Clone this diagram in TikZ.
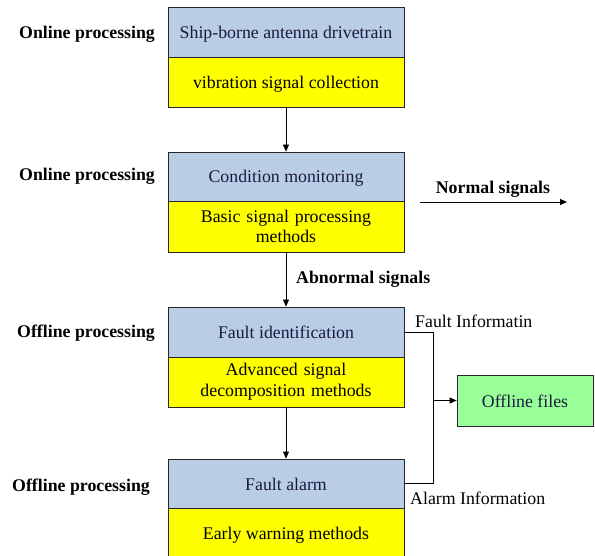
\documentclass[tikz,border=0pt]{standalone}
\usepackage{fontspec}
\setmainfont{Liberation Serif}
\usetikzlibrary{arrows.meta}
\definecolor{boxblue}{HTML}{B9CDE5}
\definecolor{boxyellow}{HTML}{FFFF00}
\definecolor{boxgreen}{HTML}{99FF99}
\definecolor{navytext}{HTML}{1A1A40}
\begin{document}
\begin{tikzpicture}[x=1pt,y=-1pt,
  every node/.style={font=\fontsize{17.8}{21}\selectfont, inner sep=0pt},
  oneline/.style={text height=15pt, text depth=2pt},
  bluebox/.style={draw=black!85, line width=0.8pt, fill=boxblue, minimum width=236pt, text=navytext, align=center, oneline},
  yellowbox/.style={draw=black!85, line width=0.8pt, fill=boxyellow, minimum width=236pt, text=black, align=center},
  greenbox/.style={draw=black!85, line width=0.8pt, fill=boxgreen, minimum width=136pt, minimum height=51pt, text=navytext, oneline},
  sidelabel/.style={font=\fontsize{17.8}{21}\selectfont\bfseries, anchor=west, oneline},
  infolabel/.style={anchor=west, oneline},
  flow/.style={line width=0.8pt, -{Triangle[length=7pt,width=6pt]}},
  link/.style={line width=0.8pt}
]
\useasboundingbox (0,0) rectangle (595,556);
% boxes
\node[bluebox, minimum height=50pt] (b1) at (286,32) {Ship-borne antenna drivetrain};
\node[yellowbox, minimum height=50pt, oneline] (y1) at (286,82) {vibration signal collection};
\node[bluebox, minimum height=49pt] (b2) at (286,176.5) {Condition monitoring};
\node[yellowbox, minimum height=51pt, text width=236pt] (y2) at (286,226.5) {\raisebox{-1.3pt}{Basic signal processing}\\[-0.4pt]methods};
\node[bluebox, minimum height=50pt] (b3) at (286,332) {Fault identification};
\node[yellowbox, minimum height=50pt, text width=236pt] (y3) at (286,382) {Advanced signal\\[-0.4pt]decomposition methods};
\node[bluebox, minimum height=49pt] (b4) at (286,483.5) {Fault alarm};
\node[yellowbox, minimum height=49pt, oneline] (y4) at (286,532.5) {Early warning methods};
\node[greenbox] (g) at (525,400.5) {Offline files};
% side labels
\node[sidelabel] (l1) at (19,32.5) {Online processing};
\node[sidelabel] (l2) at (19,174.5) {Online processing};
\node[sidelabel] (l3) at (17,331.2) {Offline processing};
\node[sidelabel] (l4) at (12,485.2) {Offline processing};
% vertical flow
\draw[flow] (y1.south) -- (b2.north);
\draw[flow] (y2.south) -- (b3.north);
\draw[flow] (y3.south) -- (b4.north);
\node[sidelabel] (abn) at (296,276.8) {Abnormal signals};
% normal signals
\coordinate (ns1) at (420,202);
\coordinate (ns2) at (567,202);
\draw[flow] (ns1) -- (ns2);
\node[sidelabel, anchor=center] (nsl) at (493,186.8) {Normal signals};
% info links
\coordinate (j1) at (433,332);
\coordinate (j2) at (433,483.5);
\coordinate (jm) at (433,400.5);
\draw[link] (b3.east) -- (j1) -- (j2) -- (b4.east);
\draw[flow] (jm) -- (g.west);
\node[infolabel] (fi) at (415,320.5) {Fault Informatin};
\node[infolabel] (ai) at (410,497.5) {Alarm Information};
\end{tikzpicture}
\end{document}
